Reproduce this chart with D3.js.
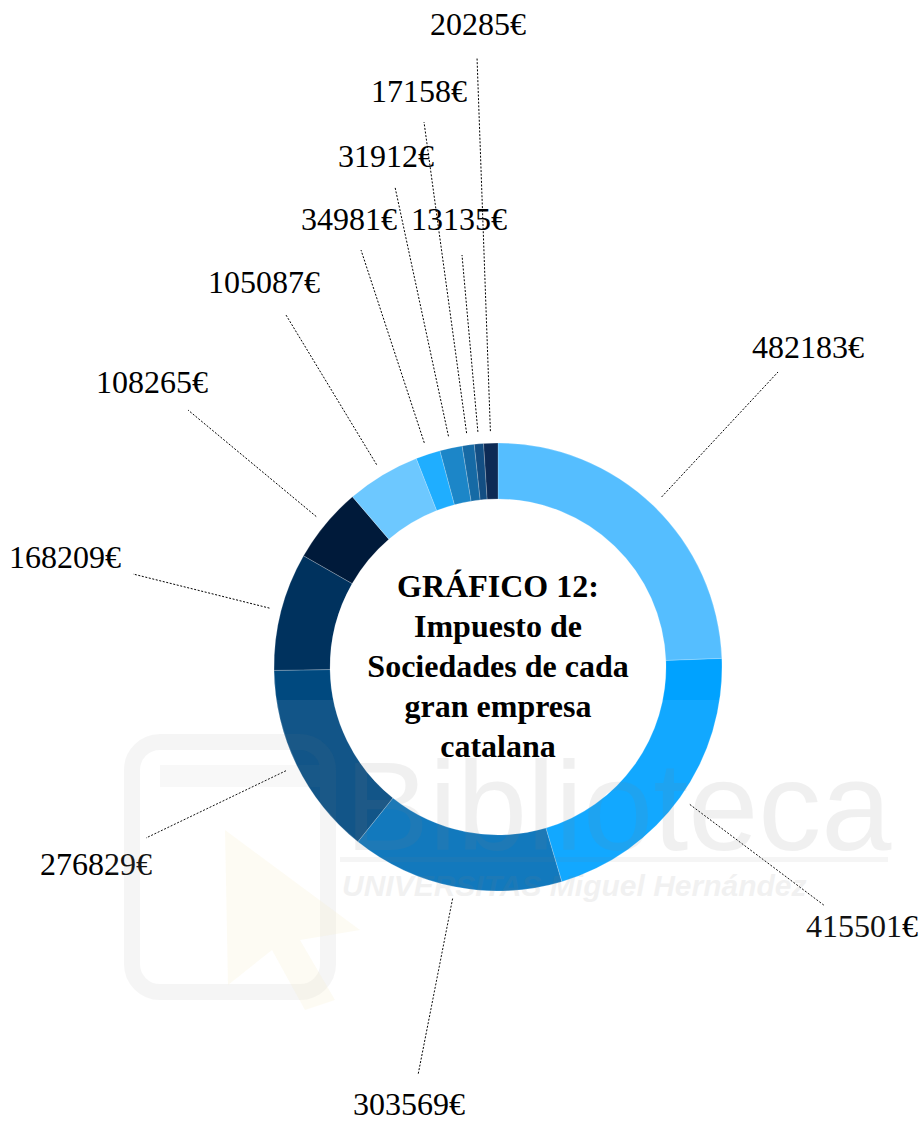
<!DOCTYPE html>
<html>
<head>
<meta charset="utf-8">
<script src="https://cdn.jsdelivr.net/npm/d3@7"></script>
<style>
  html, body { margin: 0; padding: 0; background: #fff; }
  svg { display: block; }
</style>
</head>
<body>
<svg id="chart" width="922" height="1122"></svg>
<script>
// ---- data ----
const values = [482183, 415501, 303569, 276829, 168209, 108265, 105087, 34981, 31912, 17158, 13135, 20285];
const labels = values.map(v => v + "€");
const colors = ["#55BEFF", "#00A2FF", "#006FB9", "#00497F", "#00325E", "#001A3A",
                "#6DC8FF", "#1FAEFF", "#1C86C8", "#166AA5", "#134E83", "#0D2A55"];
const titleLines = ["GRÁFICO 12:", "Impuesto de", "Sociedades de cada", "gran empresa", "catalana"];

// ---- layout (label anchor and leader-line end next to the label) ----
const labelLayout = [
  {x: 808, y: 358, lx: 778, ly: 372},
  {x: 862, y: 937, lx: 825, ly: 906},
  {x: 409, y: 1115, lx: 418, ly: 1075},
  {x: 96,  y: 875, lx: 146, ly: 838},
  {x: 65,  y: 568, lx: 133, ly: 574},
  {x: 152, y: 393, lx: 188, ly: 410},
  {x: 264, y: 293, lx: 286, ly: 315},
  {x: 349, y: 230, lx: 361, ly: 250},
  {x: 386, y: 167, lx: 395, ly: 187},
  {x: 419, y: 102, lx: 424, ly: 122},
  {x: 459, y: 230, lx: 462, ly: 255},
  {x: 478, y: 35,  lx: 477, ly: 57}
];

const W = 922, H = 1122;
const cx = 498, cy = 667, rOuter = 224, rInner = 168;
const svg = d3.select("#chart");
svg.append("rect").attr("width", W).attr("height", H).attr("fill", "#fff");

const pie = d3.pie().sort(null).value(d => d);
const arcs = pie(values);
const arc = d3.arc().innerRadius(rInner).outerRadius(rOuter);
const leaderArc = d3.arc().innerRadius(236).outerRadius(236);

const g = svg.append("g").attr("transform", `translate(${cx},${cy})`);
g.selectAll("path.slice").data(arcs).join("path")
  .attr("class", "slice")
  .attr("d", arc)
  .attr("fill", (d, i) => colors[i])
  .attr("stroke", "#ffffff")
  .attr("stroke-opacity", 0.35)
  .attr("stroke-width", 0.6);

// leader lines
svg.selectAll("line.leader").data(arcs).join("line")
  .attr("class", "leader")
  .attr("x1", d => cx + leaderArc.centroid(d)[0])
  .attr("y1", d => cy + leaderArc.centroid(d)[1])
  .attr("x2", (d, i) => labelLayout[i].lx)
  .attr("y2", (d, i) => labelLayout[i].ly)
  .attr("stroke", "#000")
  .attr("stroke-width", 1)
  .attr("stroke-dasharray", "2,1.6");

// value labels
svg.selectAll("text.val").data(arcs).join("text")
  .attr("class", "val")
  .attr("x", (d, i) => labelLayout[i].x)
  .attr("y", (d, i) => labelLayout[i].y)
  .attr("text-anchor", "middle")
  .attr("font-family", "'Liberation Serif', 'Times New Roman', serif")
  .attr("font-size", 32)
  .attr("fill", "#000")
  .text((d, i) => labels[i]);

// faint watermark overlay (drawn under the title)
const wm = svg.append("g").attr("pointer-events", "none");
wm.append("rect").attr("x", 110).attr("y", 700).attr("width", 790).attr("height", 310)
  .attr("fill", "#fff").attr("opacity", 0.07);
wm.append("rect").attr("x", 132).attr("y", 742).attr("width", 196).attr("height", 250)
  .attr("rx", 28).attr("fill", "none").attr("stroke", "#808080").attr("stroke-width", 16).attr("opacity", 0.08);
wm.append("rect").attr("x", 160).attr("y", 765).attr("width", 160).attr("height", 22)
  .attr("fill", "#808080").attr("opacity", 0.06);
wm.append("path").attr("d", "M225,830 L360,930 L300,940 L335,1000 L305,1010 L272,950 L228,985 Z")
  .attr("fill", "#f5ecc8").attr("opacity", 0.22);
wm.append("text").attr("x", 345).attr("y", 850)
  .attr("font-family", "'Liberation Sans', Arial, sans-serif").attr("font-size", 126)
  .attr("fill", "#808080").attr("opacity", 0.11).text("Biblioteca");
wm.append("rect").attr("x", 340).attr("y", 857).attr("width", 548).attr("height", 5)
  .attr("fill", "#808080").attr("opacity", 0.08);
wm.append("text").attr("x", 342).attr("y", 896)
  .attr("font-family", "'Liberation Sans', Arial, sans-serif").attr("font-size", 30)
  .attr("font-weight", "bold").attr("font-style", "italic")
  .attr("fill", "#808080").attr("opacity", 0.1).text("UNIVERSITAS Miguel Hernández");

// title in the hole
svg.append("text")
  .attr("text-anchor", "middle")
  .attr("font-family", "'Liberation Serif', 'Times New Roman', serif")
  .attr("font-weight", "bold")
  .attr("font-size", 32)
  .attr("fill", "#000")
  .selectAll("tspan").data(titleLines).join("tspan")
  .attr("x", cx)
  .attr("y", (d, i) => cy + 10 + (i - 2) * 40)
  .text(d => d);
</script>
</body>
</html>
